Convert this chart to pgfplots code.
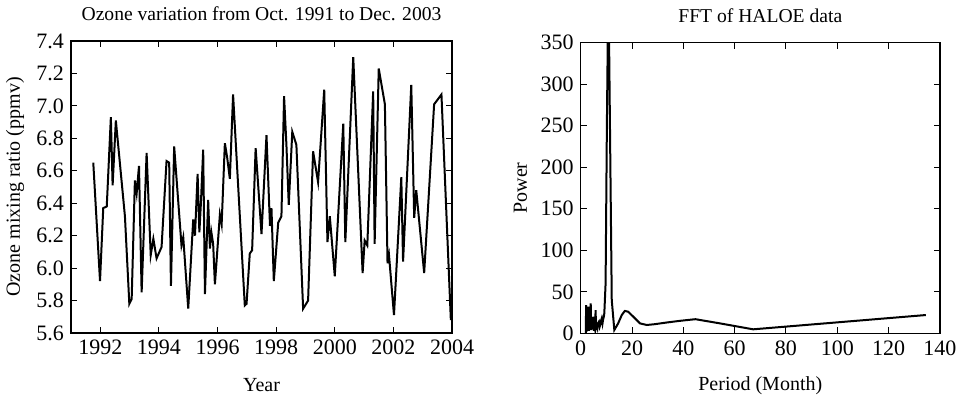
\documentclass[border=0pt]{standalone}
\usepackage{fontspec}
\setmainfont{Liberation Serif}
\usepackage{pgfplots}
\pgfplotsset{compat=1.18}

\pgfplotsset{haloe/.style={scale only axis, axis line style={line width=0.6pt}, tick style={black, line width=0.5pt},
  major tick length=3pt, tick label style={font=\fontsize{11}{13}\selectfont},
  label style={font=\fontsize{10}{12}\selectfont}, title style={font=\fontsize{9.8}{11}\selectfont},
  every axis title shift=0pt,
  /pgf/number format/assume math mode=true}}

\begin{document}
\begin{tikzpicture}
\useasboundingbox (0,0) rectangle (480.5pt,-200.5pt);
% left: ozone time series
\begin{axis}[haloe, at={(35.5pt,-166.5pt)}, anchor=south west, width=190.5pt, height=146pt,
  xmin=1991, xmax=2004, ymin=5.6, ymax=7.4,
  xtick={1992,1994,...,2004}, ytick={5.6,5.8,...,7.41},
  xticklabel style={/pgf/number format/1000 sep={}},
  yticklabel style={/pgf/number format/fixed, /pgf/number format/zerofill, /pgf/number format/precision=1},
  title={Ozone variation from Oct. 1991 to Dec. 2003}, title style={at={(0.5,1.092)}, anchor=center},
  xlabel={Year}, xlabel style={at={(0.5,-0.178)}, anchor=center},
  ylabel={Ozone mixing ratio (ppmv)}, ylabel style={at={(-0.147,0.5)}, anchor=center}]
\addplot[black, line width=1pt] coordinates {(1991.76,6.65) (1991.99,5.92) (1992.10,6.37) (1992.22,6.38) (1992.36,6.93) (1992.42,6.51)
 (1992.53,6.91) (1992.84,6.32) (1992.99,5.78) (1993.07,5.81) (1993.18,6.54) (1993.24,6.46) (1993.32,6.63)
 (1993.41,5.85) (1993.58,6.71) (1993.72,6.08) (1993.81,6.18) (1993.92,6.06) (1994.09,6.13) (1994.26,6.66)
 (1994.35,6.65) (1994.41,5.89) (1994.52,6.75) (1994.77,6.14) (1994.83,6.19) (1995.00,5.75) (1995.17,6.30)
 (1995.23,6.20) (1995.32,6.58) (1995.38,6.22) (1995.43,6.39) (1995.51,6.73) (1995.57,5.84) (1995.68,6.42)
 (1995.74,6.12) (1995.79,6.22) (1995.85,6.15) (1995.91,5.90) (1996.08,6.33) (1996.14,6.27) (1996.25,6.77)
 (1996.33,6.68) (1996.42,6.55) (1996.53,7.07) (1996.93,5.77) (1996.99,5.78) (1997.10,6.09) (1997.18,6.11)
 (1997.30,6.74) (1997.50,6.21) (1997.67,6.82) (1997.79,6.26) (1997.84,6.37) (1997.92,5.92) (1998.07,6.28)
 (1998.18,6.32) (1998.27,7.06) (1998.35,6.76) (1998.43,6.39) (1998.55,6.84) (1998.69,6.76) (1998.92,5.75)
 (1999.09,5.80) (1999.26,6.72) (1999.43,6.53) (1999.64,7.10) (1999.75,6.16) (1999.83,6.32) (2000.00,5.95)
 (2000.29,6.89) (2000.36,6.16) (2000.63,7.30) (2000.95,5.97) (2001.02,6.17) (2001.11,6.14) (2001.31,7.09)
 (2001.36,6.15) (2001.50,7.23) (2001.71,7.01) (2001.80,6.03) (2001.85,6.08) (2002.02,5.71) (2002.27,6.56)
 (2002.33,6.04) (2002.61,7.13) (2002.71,6.31) (2002.78,6.48) (2003.05,5.97) (2003.39,7.01) (2003.64,7.07)
 (2003.96,5.68)};
\end{axis}
% right: FFT power spectrum
\begin{axis}[haloe, at={(290.35pt,-166.65pt)}, anchor=south west, width=179.6pt, height=145.3pt,
  xmin=0, xmax=140, ymin=0, ymax=350,
  xtick={0,20,...,140}, ytick={0,50,...,350},
  title={FFT of HALOE data}, title style={at={(0.5,1.093)}, anchor=center},
  xlabel={Period (Month)}, xlabel style={at={(0.5,-0.179)}, anchor=center},
  ylabel={Power}, ylabel style={at={(-0.168,0.5)}, anchor=center}]
\addplot[black, line width=1pt] coordinates {(2.0,0) (2.1,34) (2.3,2) (2.5,12) (2.7,5) (3.0,32) (3.2,3) (3.4,14) (3.6,6) (3.9,36)
 (4.1,4) (4.3,16) (4.6,8) (4.9,20) (5.1,3) (5.3,10) (5.6,5) (5.8,28) (6.0,4) (6.2,9) (6.5,6) (6.7,12)
 (7.1,14) (7.4,8) (7.6,10) (7.9,15) (8.2,18) (8.5,12) (8.7,16) (9.0,20) (9.2,24) (9.7,60) (10.2,250)
 (10.8,430) (11.4,250) (12.1,40) (13.1,4) (14.6,12) (16.0,22) (17.2,27) (18.5,26) (20.5,20) (23.1,12)
 (25.7,10) (28.9,11) (33.5,13) (38.6,15) (44.7,17) (54.2,12) (67.2,4.8) (134.5,22)};
\end{axis}
\end{tikzpicture}
\end{document}
